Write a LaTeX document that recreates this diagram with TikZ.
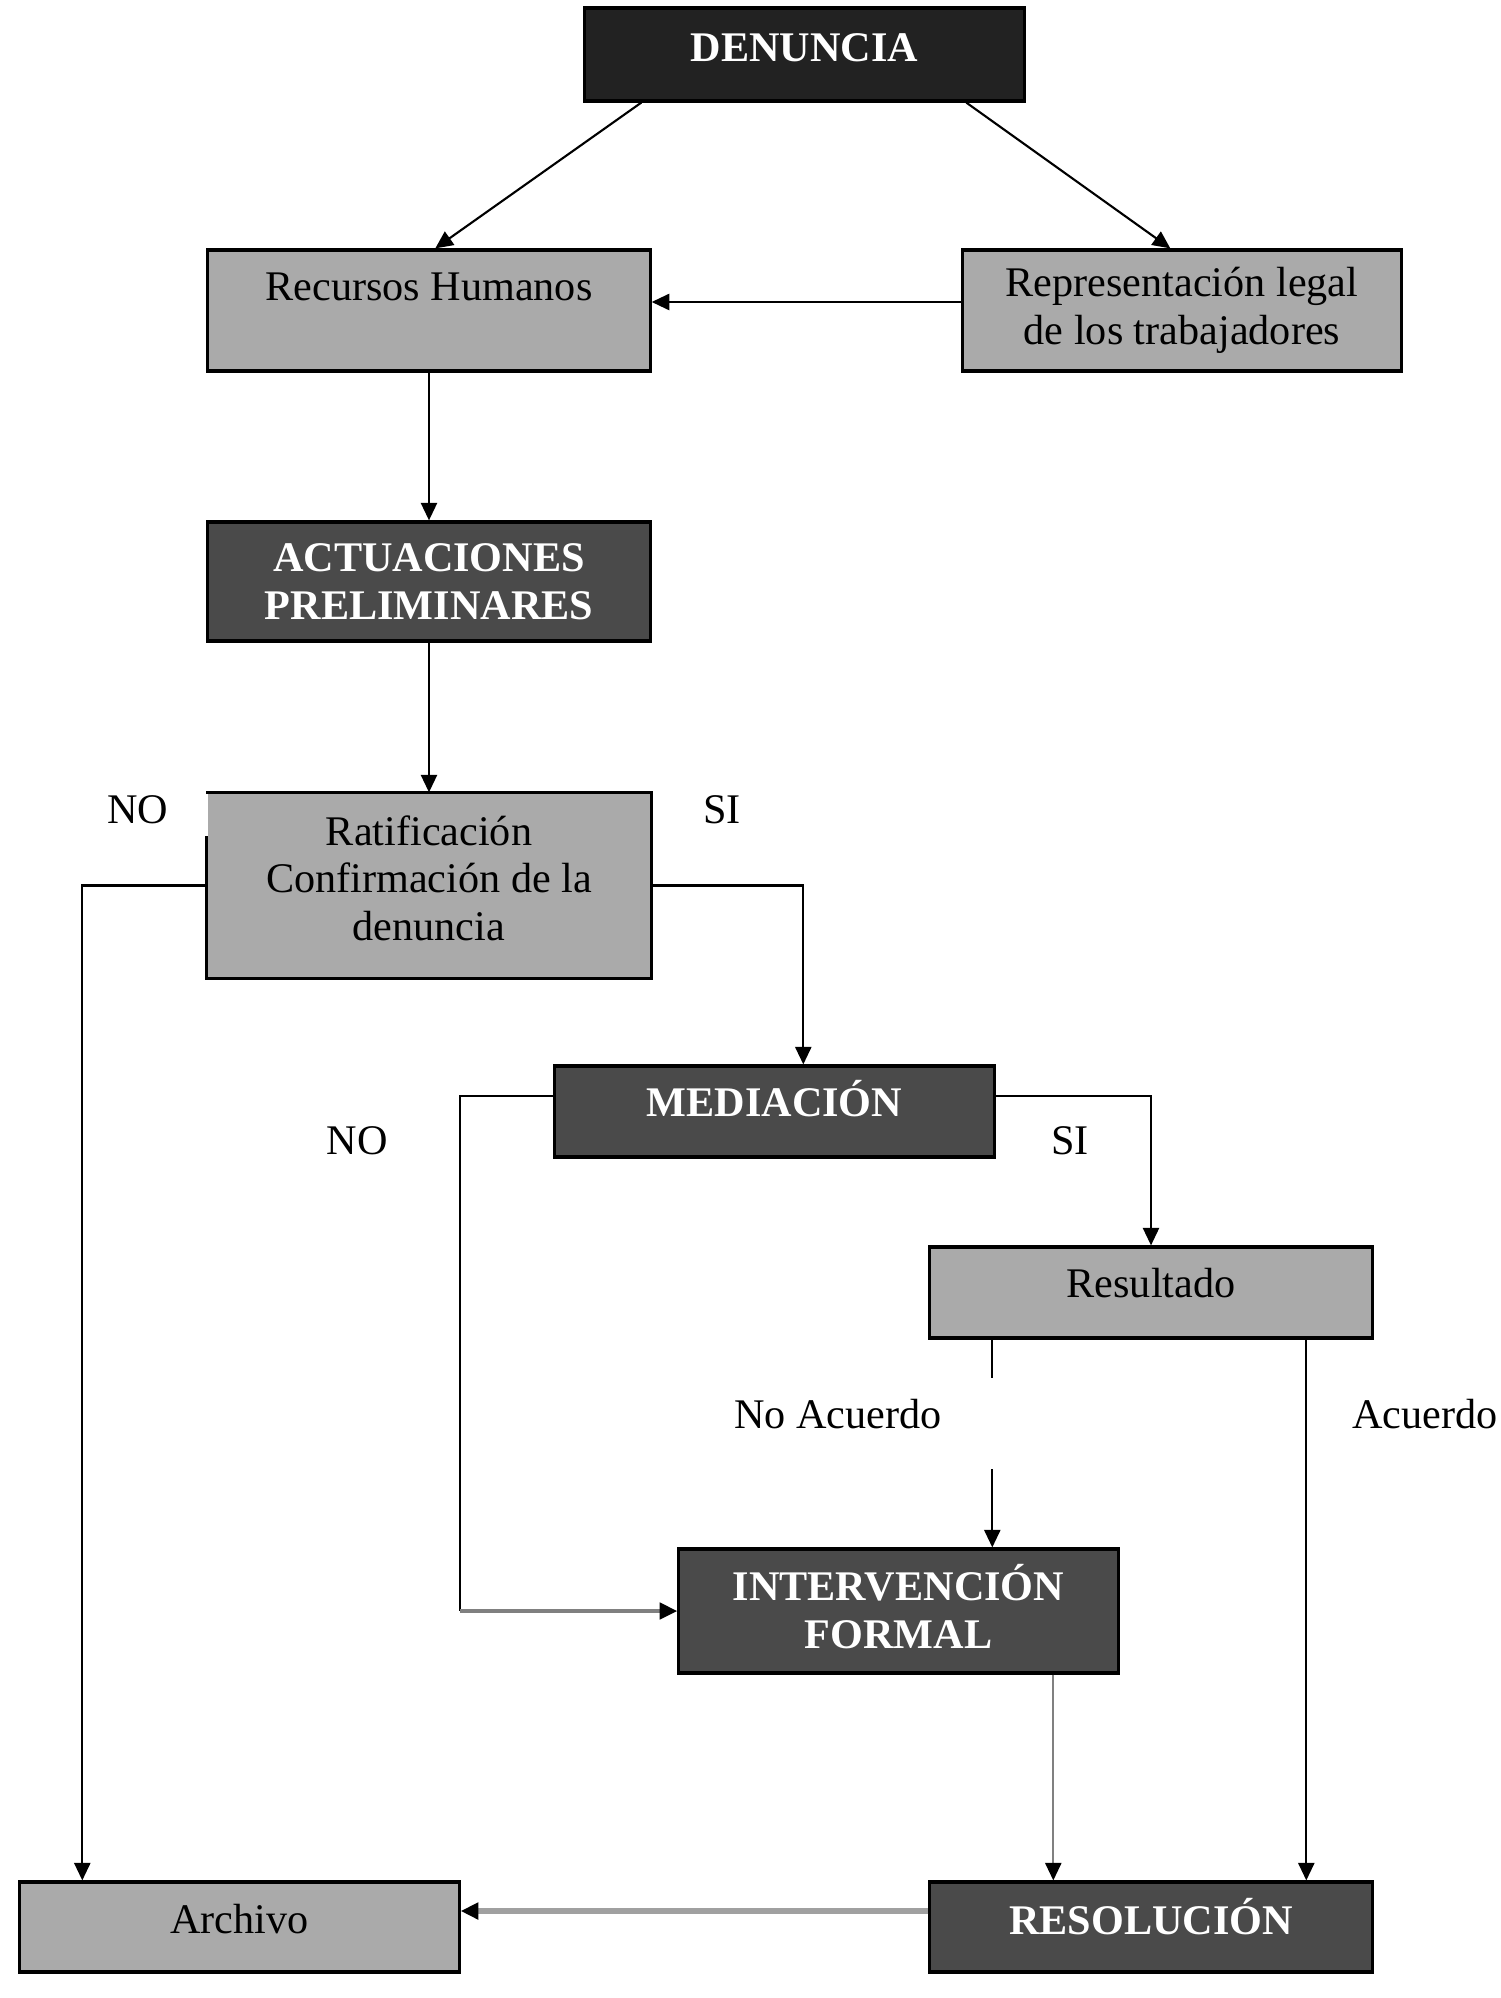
\documentclass[tikz,border=0pt]{standalone}
\usepackage{fontspec}
\setmainfont{Liberation Serif}
\usetikzlibrary{arrows.meta,calc}
\definecolor{boxgray}{HTML}{AAAAAA}
\definecolor{boxdark}{HTML}{4A4A4A}
\definecolor{boxblack}{HTML}{222222}
\definecolor{linegray}{HTML}{808080}
\definecolor{thickgray}{HTML}{A0A0A0}
\begin{document}
\begin{tikzpicture}[x=0.01cm,y=-0.01cm,
  box/.style={rectangle, draw=black, line width=0.9pt, inner sep=0pt, align=center,
    font=\fontsize{12}{13.5}\selectfont},
  graybox/.style={box, fill=boxgray, text=black},
  darkbox/.style={box, fill=boxdark, text=white, font=\fontsize{12}{13.5}\selectfont\bfseries},
  lift/.style={text depth=#1},
  lbl/.style={font=\fontsize{12}{13.5}\selectfont, inner sep=0pt},
  plain/.style={draw=black, line width=0.6pt},
  arr/.style={plain, -{Triangle[length=5pt,width=4.6pt,color=black]}}]
\fill[white] (0,0) rectangle (1500,1998);
\useasboundingbox (0,0) rectangle (1500,1998);

% boxes
\node[darkbox, fill=boxblack, lift=4pt, minimum width=4.39cm, minimum height=0.93cm] (den) at (804.5,54.5) {DENUNCIA};
\node[graybox, minimum width=4.42cm, minimum height=1.21cm] (rrhh) at (429,310.5) {Recursos Humanos\\\mbox{}};
\node[graybox, minimum width=4.38cm, minimum height=1.21cm] (rep) at (1182,310.5) {Representación legal\\de los trabajadores};
\node[darkbox, minimum width=4.42cm, minimum height=1.19cm] (act) at (429,581.5) {ACTUACIONES\\PRELIMINARES};
\node[graybox, draw=none, lift=4.4pt, minimum width=4.42cm, minimum height=1.83cm] (rat) at (429,885.5) {Ratificación\\Confirmación de la\\denuncia};
\draw[line width=0.9pt] ($(rat.north west)+(0,44)$) -- (rat.south west) -- (rat.south east) -- (rat.north east) -- (rat.north west);
\node[darkbox, lift=7.4pt, minimum width=4.39cm, minimum height=0.91cm] (med) at (774.5,1111.5) {MEDIACIÓN};
\node[graybox, lift=5.4pt, minimum width=4.42cm, minimum height=0.91cm] (res) at (1151,1292.5) {Resultado};
\node[darkbox, lift=2.6pt, minimum width=4.39cm, minimum height=1.24cm] (intv) at (898.5,1611) {INTERVENCIÓN\\FORMAL};
\node[graybox, lift=4.4pt, minimum width=4.39cm, minimum height=0.90cm] (arch) at (239.5,1927) {Archivo};
\node[darkbox, lift=5.8pt, minimum width=4.42cm, minimum height=0.90cm] (reso) at (1151,1927) {RESOLUCIÓN};

% connectors
\draw[arr] ($(den.south west)+(58,0)$) -- ($(rrhh.north west)+(229,0)$);
\draw[arr] ($(den.south west)+(383,0)$) -- ($(rep.north west)+(209,0)$);
\draw[arr] ($(rep.west)+(0,-8.5)$) -- ($(rrhh.east)+(0,-8.5)$);
\draw[arr] (rrhh.south) -- (act.north);
\draw[arr] (act.south) -- (rat.north);
\draw[arr] (rat.west) -| ($(arch.north west)+(64,0)$);
\draw[arr] (rat.east) -| ($(med.north west)+(250,0)$);
\coordinate (mw) at ($(med.west)+(0,-15.5)$);
\coordinate (mc) at ($(mw)+(-93,0)$);
\draw[plain] (mw) -- (mc) -- (mc |- intv.west);
\draw[arr, draw=linegray, line width=1.1pt] (mc |- intv.west) -- (intv.west);
\draw[arr] ($(med.east)+(0,-15.5)$) -| (res.north);
\coordinate (na0) at ($(res.south west)+(64,0)$);
\coordinate (na1) at ($(res.south west)+(64,38)$);
\coordinate (na2) at ($(intv.north west)+(315,-78)$);
\draw[plain] (na0) -- (na1);
\draw[arr] (na2) -- (na2 |- intv.north);
\coordinate (ac) at ($(res.south west)+(378,0)$);
\draw[arr] (ac) -- (ac |- reso.north);
\coordinate (fr) at ($(intv.south west)+(376,0)$);
\draw[arr, draw=linegray] (fr) -- (fr |- reso.north);
\draw[arr, draw=thickgray, line width=1.8pt] ($(reso.west)+(0,-16)$) -- ($(arch.east)+(0,-16)$);

% labels
\node[lbl] (no1) at (138,810) {NO};
\node[lbl] (si1) at (722,810) {SI};
\node[lbl] (no2) at (357,1141) {NO};
\node[lbl] (si2) at (1070,1141) {SI};
\node[lbl] (nac) at (838,1414) {No Acuerdo};
\node[lbl, anchor=east] (acu) at (1498,1414) {Acuerdo};
\end{tikzpicture}
\end{document}
